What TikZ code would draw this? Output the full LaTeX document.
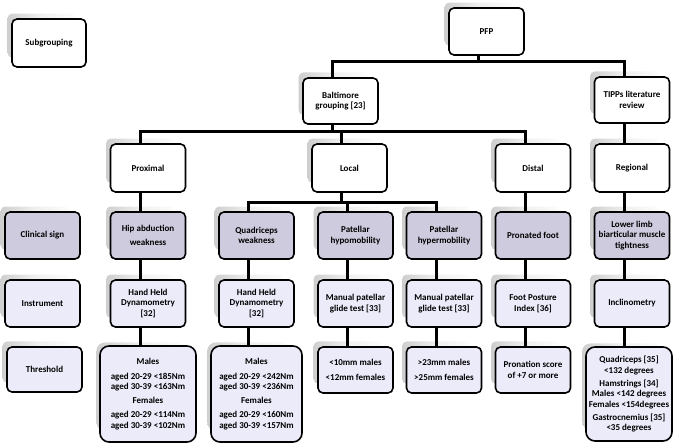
\documentclass[tikz,border=0pt]{standalone}
\usepackage{fontspec}
\setmainfont{Carlito}
\usetikzlibrary{shadows}
\definecolor{signfill}{HTML}{CDCBDD}
\definecolor{toolfill}{HTML}{ECEBFA}
\tikzset{
  cell/.style={rectangle, rounded corners=5pt, draw=black, line width=1.6pt, align=center,
    minimum width=75pt, minimum height=47pt, inner sep=2pt,
    font=\bfseries\fontsize{9}{10.5}\selectfont,
    general shadow={shadow xshift=-8pt, shadow yshift=8pt, shadow scale=0.92,
      left color=gray!38, right color=gray!2, middle color=gray!12}},
  plain/.style={cell, fill=white},
  sign/.style={cell, fill=signfill},
  tool/.style={cell, fill=toolfill},
  bigtool/.style={tool, rounded corners=9pt},
  link/.style={line width=3pt}
}

\begin{document}
\begin{tikzpicture}[x=1pt, y=-1pt]
  \useasboundingbox (0,0) rectangle (682,446);

  \node[plain, minimum height=48pt, minimum width=74pt] (sub) at (49,43) {Subgrouping};
  \node[sign] (csign) at (42.5,235.5) {Clinical sign};
  \node[tool] (instr) at (42.5,303.5) {Instrument};
  \node[tool, minimum height=45pt] (thr) at (44.5,369.5) {Threshold};

  \node[plain] (pfp) at (486.5,31.5) {PFP};
  \node[plain, minimum height=46pt] (bal) at (340.5,101) {Baltimore\\grouping [23]};
  \node[plain, minimum height=46pt] (tipps) at (632,100) {TIPPs literature\\review};

  \node[plain, minimum height=48pt] (prox) at (148,168) {Proximal};
  \node[plain, minimum height=48pt] (local) at (349.5,168) {Local};
  \node[plain, minimum height=48pt] (distal) at (533,168) {Distal};
  \node[plain, minimum height=48pt] (regional) at (632,168) {Regional};

  \node[sign] (hip) at (148,235.5) {Hip abduction\\[3pt]weakness};
  \node[sign] (quad) at (256.5,235.5) {Quadriceps\\weakness};
  \node[sign] (hypo) at (355.5,235.5) {Patellar\\hypomobility};
  \node[sign] (hyper) at (444,235.5) {Patellar\\hypermobility};
  \node[sign] (pron) at (533,235.5) {Pronated foot};
  \node[sign] (lower) at (632,235.5) {Lower limb\\biarticular muscle\\tightness};

  \node[tool] (hhd1) at (148,303.5) {Hand Held\\Dynamometry\\{[32]}};
  \node[tool] (hhd2) at (256.5,303.5) {Hand Held\\Dynamometry\\{[32]}};
  \node[tool] (mpg1) at (355.5,303.5) {Manual patellar\\glide test [33]};
  \node[tool] (mpg2) at (444,303.5) {Manual patellar\\glide test [33]};
  \node[tool] (fpi) at (533,303.5) {Foot Posture\\Index [36]};
  \node[tool] (incl) at (632,303.5) {Inclinometry};

  \node[bigtool, minimum width=96pt, minimum height=96pt] (t1) at (148,394)
    {Males\\[4pt]aged 20-29 <185Nm\\aged 30-39 <163Nm\\[3pt]Females\\[4pt]aged 20-29 <114Nm\\aged 30-39 <102Nm};
  \node[bigtool, minimum width=91pt, minimum height=96pt] (t2) at (256.5,394)
    {Males\\[4pt]aged 20-29 <242Nm\\aged 30-39 <236Nm\\[3pt]Females\\[4pt]aged 20-29 <160Nm\\aged 30-39 <157Nm};
  \node[tool, minimum height=46pt] (t3) at (355.5,370) {<10mm males\\[5pt]<12mm females};
  \node[tool, minimum height=46pt] (t4) at (444,370) {>23mm males\\[5pt]>25mm females};
  \node[tool, minimum height=46pt] (t5) at (533,370) {Pronation score\\of +7 or more};
  \node[bigtool, minimum width=86pt, minimum height=94pt] (t6) at (629,394)
    {Quadriceps [35]\\<132 degrees\\[2.5pt]Hamstrings [34]\\Males <142 degrees\\Females <154degrees\\[2.5pt]Gastrocnemius [35]\\<35 degrees};

  \draw[link] ([xshift=-8pt]pfp.south) -- ++(0,6) -| ([xshift=-8pt]bal.north);
  \draw[link] ([xshift=-8pt]pfp.south) -- ++(0,6) -| ([xshift=-8pt]tipps.north);
  \foreach \sub in {prox,local,distal}
    \draw[link] ([xshift=-8pt]bal.south) -- ++(0,7) -| ([xshift=-8pt]\sub.north);
  \foreach \sub in {quad,hypo,hyper}
    \draw[link] ([xshift=-8pt]local.south) -- ++(0,10) -| ([xshift=-8pt]\sub.north);
  \foreach \a/\b in {tipps/regional,prox/hip,distal/pron,regional/lower,
      hip/hhd1,quad/hhd2,hypo/mpg1,hyper/mpg2,pron/fpi,lower/incl,
      hhd1/t1,hhd2/t2,mpg1/t3,mpg2/t4,fpi/t5,incl/t6}
    \draw[link] ([xshift=-8pt]\a.south) -- ([xshift=-8pt]\a.south |- \b.north);
\end{tikzpicture}
\end{document}
